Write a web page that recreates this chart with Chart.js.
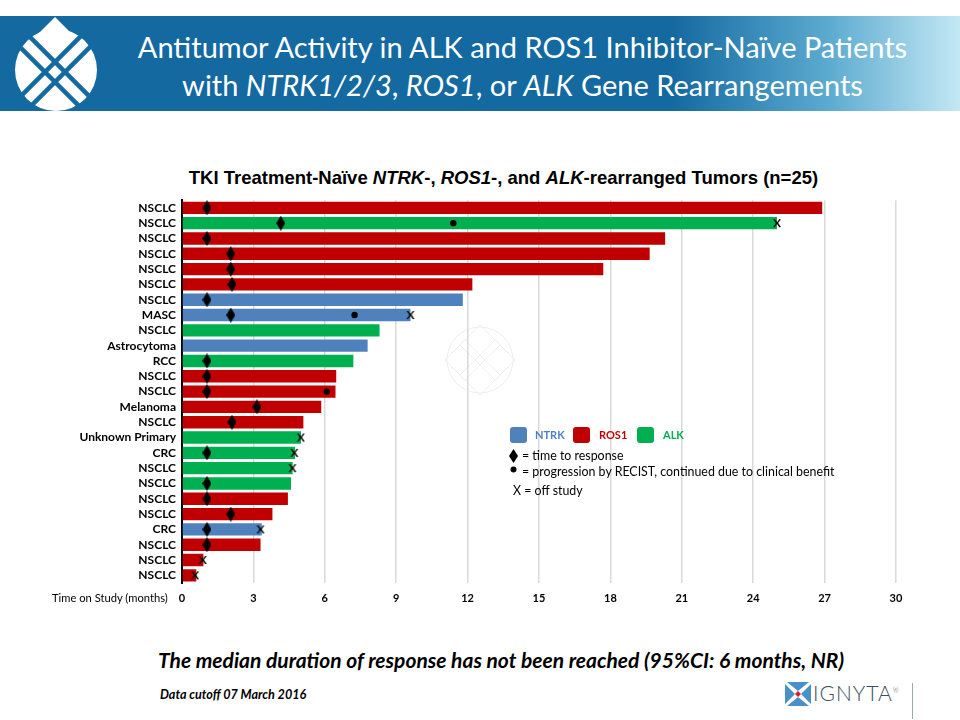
<!DOCTYPE html>
<html>
<head>
<meta charset="utf-8">
<script src="https://cdn.jsdelivr.net/npm/chart.js@4/dist/chart.umd.min.js"></script>
<style>
  body { margin: 0; width: 960px; height: 720px; background: #fff; position: relative; overflow: hidden; font-family: Lato, "Open Sans", sans-serif; }
  .banner { position: absolute; left: 0; top: 16px; width: 960px; height: 95px;
    background: linear-gradient(90deg, #1469a0 0%, #1469a0 70%, #5aa9cf 86%, #c3e8f4 100%); }
  .banner h1 { position: absolute; left: 90px; width: 865px; top: 12px; margin: 0; text-align: center;
    color: #fff; font-weight: normal; font-size: 29px; line-height: 38px; }
  .ctitle { position: absolute; left: 0; width: 1007px; top: 167px; text-align: center;
    font: bold 18.5px "Liberation Sans", Arial, sans-serif; color: #000; }
  #wrap { position: absolute; left: 0; top: 187px; width: 920px; height: 428px; }
  .xlab { position: absolute; left: 52px; top: 591px; font-size: 11.2px; color: #000; }
  .leg { position: absolute; font-size: 12.4px; color: #000; }
  .sq { position: absolute; width: 17px; height: 16px; border-radius: 3px; }
  .lt { position: absolute; font-weight: bold; font-size: 11px; }
  .note { position: absolute; left: 0; width: 1002px; top: 647px; text-align: center;
    font-weight: bold; font-style: italic; font-size: 21px; color: #000; }
  .cut { position: absolute; left: 160px; top: 687px; font-weight: bold; font-style: italic; font-size: 12.6px; }
  .brand { position: absolute; left: 813px; top: 680px; font-size: 21px; letter-spacing: 1px; color: #3b4e5e; font-weight: 300; }
</style>
</head>
<body>
<div class="banner">
  <h1>Antitumor Activity in ALK and ROS1 Inhibitor-Naïve Patients<br>with <i>NTRK1/2/3</i>, <i>ROS1</i>, or <i>ALK</i> Gene Rearrangements</h1>
</div>
<svg style="position:absolute;left:0;top:16px" width="130" height="95" viewBox="0 16 130 95">
  <path d="M55 17 L90 52 L55 87 L20 52 Z" fill="#fff"/>
  <circle cx="56" cy="70" r="41" fill="#fff"/>
  <g stroke="#1469a0" stroke-width="4.5">
    <line x1="0" y1="7" x2="120" y2="127"/><line x1="0" y1="27" x2="100" y2="127"/>
    <line x1="117" y1="0" x2="0" y2="117"/><line x1="130" y1="7" x2="10" y2="127"/>
  </g>
</svg>
<svg style="position:absolute;left:440px;top:320px" width="80" height="80" viewBox="0 0 80 80">
  <g fill="none" stroke="#efefef" stroke-width="1">
    <circle cx="40" cy="40" r="33"/>
    <path d="M40 5 L75 40 L40 75 L5 40 Z"/>
    <path d="M20 25 L55 60 M25 20 L60 55 M60 25 L25 60 M55 20 L20 55"/>
  </g>
</svg>
<div class="ctitle">TKI Treatment-Naïve <i>NTRK</i>-, <i>ROS1</i>-, and <i>ALK</i>-rearranged Tumors (n=25)</div>
<div id="wrap"><canvas id="c"></canvas></div>
<div class="xlab">Time on Study (months)</div>

<div class="sq" style="left:510px;top:427px;background:#4f81bd"></div>
<div class="lt" style="left:535px;top:428px;color:#4f81bd">NTRK</div>
<div class="sq" style="left:573px;top:427px;background:#c00000"></div>
<div class="lt" style="left:599px;top:428px;color:#c00000">ROS1</div>
<div class="sq" style="left:637px;top:427px;background:#00b050"></div>
<div class="lt" style="left:663px;top:428px;color:#00b050">ALK</div>
<svg style="position:absolute;left:509px;top:449px" width="9" height="14"><path d="M4.5 0 L9 7 L4.5 14 L0 7 Z" fill="#000"/></svg>
<div class="leg" style="left:522px;top:448px">= time to response</div>
<svg style="position:absolute;left:510px;top:466px" width="7" height="7"><circle cx="3.5" cy="3.5" r="3" fill="#000"/></svg>
<div class="leg" style="left:522px;top:464px">= progression by RECIST, continued due to clinical benefit</div>
<div class="leg" style="left:513px;top:483px">X = off study</div>

<div class="note">The median duration of response has not been reached (95%CI: 6 months, NR)</div>
<div class="cut">Data cutoff 07 March 2016</div>
<svg style="position:absolute;left:784px;top:682px" width="28" height="24" viewBox="0 0 28 24">
  <path d="M1 2 L11 12 L1 22 Z M27 2 L17 12 L27 22 Z M3 0 L14 9 L25 0 Z M3 24 L14 15 L25 24 Z" fill="#4a90c8"/>
  <path d="M14 9 L17 12 L14 15 L11 12 Z" fill="#d0203a"/>
</svg>
<div class="brand">IGNYTA<sup style="font-size:7px">®</sup></div>
<div style="position:absolute;left:912px;top:683px;width:1px;height:36px;background:#9aa"></div>

<script>
const tumors = ['NSCLC', 'NSCLC', 'NSCLC', 'NSCLC', 'NSCLC', 'NSCLC', 'NSCLC', 'MASC', 'NSCLC', 'Astrocytoma',
  'RCC', 'NSCLC', 'NSCLC', 'Melanoma', 'NSCLC', 'Unknown Primary', 'CRC', 'NSCLC', 'NSCLC', 'NSCLC',
  'NSCLC', 'CRC', 'NSCLC', 'NSCLC', 'NSCLC'];
const genes = ['ROS1', 'ALK', 'ROS1', 'ROS1', 'ROS1', 'ROS1', 'NTRK', 'NTRK', 'ALK', 'NTRK',
  'ALK', 'ROS1', 'ROS1', 'ROS1', 'ROS1', 'ALK', 'ALK', 'ALK', 'ALK', 'ROS1',
  'ROS1', 'NTRK', 'ROS1', 'ROS1', 'ROS1'];
const months = [26.9, 25.0, 20.3, 19.65, 17.7, 12.2, 11.8, 9.6, 8.3, 7.8,
  7.2, 6.48, 6.45, 5.85, 5.1, 5.0, 4.75, 4.65, 4.58, 4.45,
  3.8, 3.35, 3.3, 0.9, 0.6];
const response = [1.05, 4.15, 1.05, 2.05, 2.05, 2.1, 1.05, 2.05, null, null,
  1.05, 1.05, 1.05, 3.15, 2.1, null, 1.05, null, 1.05, 1.05,
  2.05, 1.05, 1.05, null, null];
const progression = [null, 11.4, null, null, null, null, null, 7.25, null, null,
  null, null, 6.08, null, null, null, null, null, null, null,
  null, null, null, null, null];
const offStudy = [null, 25.0, null, null, null, null, null, 9.6, null, null,
  null, null, null, null, null, 4.99, 4.72, 4.64, null, null,
  null, 3.3, null, 0.87, 0.55];
const xTicks = [0, 3, 6, 9, 12, 15, 18, 21, 24, 27, 30];

const GENE_COLORS = { NTRK: '#4f81bd', ROS1: '#c00000', ALK: '#00b050' };

function diamond() {
  const c = document.createElement('canvas');
  c.width = 9; c.height = 15;
  const g = c.getContext('2d');
  g.fillStyle = '#000';
  g.beginPath();
  g.moveTo(4.5, 0); g.lineTo(9, 7.5); g.lineTo(4.5, 15); g.lineTo(0, 7.5);
  g.closePath(); g.fill();
  return c;
}
function xMark() {
  const c = document.createElement('canvas');
  c.width = 10; c.height = 14;
  const g = c.getContext('2d');
  g.fillStyle = '#000';
  g.font = 'bold 12px Lato, sans-serif';
  g.textAlign = 'center'; g.textBaseline = 'middle';
  g.fillText('X', 5, 7.5);
  return c;
}

const marker = (data, style) => ({
  type: 'line', data, showLine: false, indexAxis: 'y',
  pointStyle: style, pointBackgroundColor: '#000', pointBorderWidth: 0,
  pointRadius: 3.2,
});

new Chart(document.getElementById('c'), {
  type: 'bar',
  data: {
    labels: tumors,
    datasets: [
      marker(response, diamond()),
      marker(progression, 'circle'),
      marker(offStudy, xMark()),
      {
        data: months,
        backgroundColor: genes.map((g) => GENE_COLORS[g]),
        borderWidth: 0,
        barPercentage: 0.81,
        categoryPercentage: 1,
        order: 10,
      },
    ],
  },
  options: {
    indexAxis: 'y',
    responsive: true,
    maintainAspectRatio: false,
    animation: false,
    layout: { padding: { top: 4, right: 24, bottom: 0, left: 0 } },
    plugins: { legend: { display: false }, tooltip: { enabled: false } },
    scales: {
      x: {
        type: 'linear', min: 0, max: 30,
        afterBuildTicks: (s) => { s.ticks = xTicks.map((v) => ({ value: v })); },
        afterFit: (s) => { s.height = 32; },
        grid: { color: '#d9d9d9', lineWidth: 1.5, drawTicks: false },
        border: { display: false },
        ticks: { padding: 9, color: '#000', font: { family: 'Lato', weight: 'bold', size: 11 } },
      },
      y: {
        type: 'category',
        afterFit: (s) => { s.width = 182; },
        grid: { display: false, drawTicks: false },
        border: { color: '#000', width: 2 },
        ticks: { padding: 6, color: '#000', autoSkip: false, font: { family: 'Lato', weight: 'bold', size: 12 } },
      },
    },
  },
});
</script>
</body>
</html>
